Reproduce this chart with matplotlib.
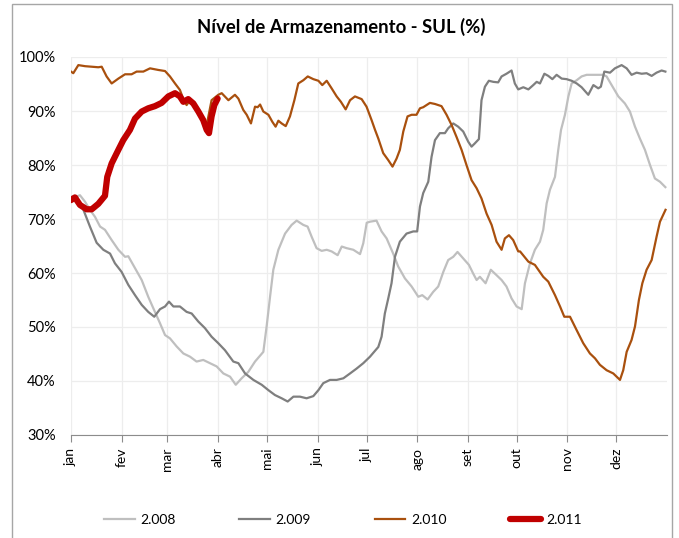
import matplotlib
matplotlib.use("Agg")
import matplotlib.pyplot as plt
from matplotlib.patches import Rectangle
from matplotlib.ticker import FixedLocator, PercentFormatter

plt.rcParams['font.family'] = ['Lato', 'DejaVu Sans']

# dia do ano (0 = 1 jan) e nivel (%)
dias_2008 = [0, 5.5, 8.6, 11.6, 14.7, 17.8, 20.8, 24.9, 29, 33.1, 35.1, 39.2, 43.3, 47.3, 51.4, 54.5,
             57.6, 60.6, 64.7, 68.8, 72.9, 76.9, 81, 85.1, 89.2, 93.3, 97.4, 100.9, 104.5, 108.6, 112.7,
             117.8, 119.8, 121.9, 123.9, 127, 131.1, 135.1, 138.2, 142.3, 144.9, 147.4, 150.4, 153.5,
             156.6, 159.6, 163.3, 165.8, 168.8, 172.9, 177, 179, 181.1, 183.1, 187.1, 190.2, 193.3,
             197.3, 200.4, 204.5, 208.6, 212.7, 215.1, 218.4, 221.8, 224.9, 228, 231, 234.1, 236.7,
             240.2, 243.7, 246.3, 248.4, 250.4, 253.9, 257.1, 260.6, 263.7, 266.7, 269.8, 272.9, 276,
             278, 281.1, 284.1, 287.2, 289.2, 291.3, 293.3, 296.4, 298.4, 300.1, 302.5, 304.6, 306.6,
             309.7, 312.7, 315.8, 320.9, 326, 328, 331.1, 335.2, 339.2, 342.3, 345.4, 348.4, 351.5,
             354.6, 357.6, 360.7, 364]
nivel_2008 = [73.8, 74.4, 73.2, 71.7, 70.4, 68.6, 68.0, 66.1, 64.3, 63.0, 63.1, 60.9, 58.7, 55.6, 52.8, 50.7,
              48.5, 47.9, 46.4, 45.1, 44.5, 43.6, 43.9, 43.3, 42.7, 41.4, 40.8, 39.3, 40.5, 41.7, 43.6,
              45.4, 50.1, 55.6, 60.6, 64.3, 67.3, 68.9, 69.7, 68.9, 68.6, 66.7, 64.6, 64.1,
              64.3, 64.0, 63.3, 64.9, 64.6, 64.3, 63.5, 65.5, 69.3, 69.5, 69.7, 67.7, 66.4,
              63.6, 61.2, 59.0, 57.5, 55.6, 55.9, 55.1, 56.5, 57.5, 60.2, 62.4, 63.0, 63.9,
              62.7, 61.5, 59.9, 58.7, 59.3, 58.1, 60.6, 59.6, 58.7, 57.5, 55.3, 53.8, 53.3,
              58.1, 61.8, 64.3, 65.8, 68.0, 72.9, 75.4, 77.8, 82.8, 86.5, 89.3, 92.7, 95.1,
              95.7, 96.4, 96.7, 96.7, 96.7, 96.4, 94.8, 92.7, 91.4, 89.9, 87.1, 84.9, 82.8,
              80.0, 77.5, 76.9, 75.9]

dias_2009 = [0, 3.5, 7.6, 11.6, 15.7, 19.8, 23.9, 26.9, 31, 35.1, 39.2, 43.3, 47.3, 51, 54.5, 57.6, 60,
             62.7, 66.7, 70.8, 73.9, 78, 82, 86.1, 90.2, 94.3, 99.4, 102.5, 106.6, 111.7, 116.8, 120.9,
             124.9, 129, 132.7, 136.2, 140.2, 144.3, 148.4, 151.5, 154.5, 158.6, 162.7, 166.8, 170.9,
             174.9, 179, 183.1, 186.2, 188.2, 190.2, 192.2, 194.3, 196.3, 198.4, 201.4, 205.5, 209.6,
             212, 213.7, 215.7, 218.8, 220.8, 222.9, 225.9, 229, 231, 234.1, 237.1, 240.2, 243.3, 245.3,
             247.3, 249.8, 251.4, 253.5, 255.9, 258.6, 261.6, 263.7, 266.7, 269.8, 271.8, 273.9, 277,
             280.1, 283.1, 285.2, 287.2, 289.9, 292.3, 294.8, 297.4, 300.5, 303.5, 306.6, 309.7, 312.7,
             316.8, 319.9, 322.9, 324.5, 326.6, 330.1, 333.1, 337.2, 340.3, 343.3, 346.4, 349.5, 352.5,
             355.6, 358.6, 361.7, 364]
nivel_2009 = [74.1, 74.1, 71.7, 68.6, 65.6, 64.3, 63.6, 61.8, 60.2, 57.8, 55.9, 54.1, 52.8, 51.9, 53.3, 53.8, 54.7,
              53.8, 53.8, 52.8, 52.5, 51.0, 49.8, 48.2, 47.0, 45.7, 43.6, 43.3, 41.4, 40.2, 39.3, 38.3,
              37.4, 36.8, 36.2, 37.1, 37.1, 36.8, 37.2, 38.3, 39.6, 40.2, 40.2, 40.5, 41.4,
              42.3, 43.3, 44.5, 45.6, 46.3, 48.2, 52.5, 55.3, 58.1, 63.0, 65.8, 67.3, 67.7,
              67.7, 72.3, 74.8, 76.9, 81.5, 84.6, 85.9, 85.9, 86.8, 87.7, 87.1, 86.2, 84.3, 83.4,
              84.0, 84.8, 92.0, 94.5, 95.6, 95.4, 95.3, 96.4, 96.9, 97.5, 95.1, 94.0, 94.4,
              94.0, 94.8, 95.4, 95.1, 96.9, 96.5, 95.9, 96.7, 96.0, 95.9, 95.6, 95.1, 94.4,
              93.0, 94.8, 94.2, 94.5, 97.3, 97.1, 97.9, 98.5, 97.9, 96.7, 97.1, 96.9, 97.0,
              96.5, 97.1, 97.5, 97.3]

dias_2010 = [0, 1.4, 4.5, 8.6, 12.7, 16.7, 18.8, 21.8, 24.9, 29, 33.1, 37.1, 40.2, 44.3, 48.4, 53.5, 57.6,
             60.6, 63.7, 66.7, 68.8, 70.8, 72.9, 77, 80, 83.1, 86.1, 90.2, 92.3, 96.4, 100.4, 102.5,
             105.5, 107.6, 110.2, 112.7, 114.3, 115.8, 117.8, 120.9, 123.3, 125.3, 127, 129, 131.5,
             134.1, 136.8, 139.2, 142.3, 145, 148.4, 151.5, 153.9, 156.6, 159.6, 162.7, 165.3, 168.2,
             170.9, 173.9, 178, 181, 184.1, 186.2, 188.2, 191.2, 194.3, 196.9, 199.4, 201.4, 203.5,
             206.1, 208.6, 211.6, 213.7, 215.7, 219.8, 222.9, 226.9, 230, 233.1, 236.1, 239.2, 242.2,
             245.3, 248.4, 251.4, 254.5, 257.6, 260.6, 263.7, 265.7, 268.2, 270.8, 273.9, 275, 280.1,
             284.1, 289.2, 292.3, 296.4, 299.5, 302.1, 305.6, 309.7, 313.7, 317.8, 320.9, 323.9, 328,
             332.1, 336.2, 338.2, 340.3, 343.3, 345.4, 347.8, 349.9, 352.5, 355.6, 358.6, 360.7, 364.1]
nivel_2010 = [97.3, 97.0, 98.5, 98.3, 98.2, 98.1, 98.2, 96.4, 95.1, 96.0, 96.8, 96.8, 97.3, 97.3, 97.9, 97.6, 97.4,
              96.4, 95.1, 93.9, 92.2, 91.1, 92.0, 90.2, 88.6, 87.4, 92.0, 93.0, 93.3, 92.0, 93.0, 92.3,
              90.2, 89.3, 87.7, 90.8, 90.7, 91.2, 89.9, 89.3, 88.0, 87.1, 88.2, 87.7, 87.2,
              89.0, 92.0, 95.1, 95.7, 96.4, 95.9, 95.6, 94.8, 95.6, 94.2, 92.7, 91.7, 90.3,
              92.0, 92.7, 92.2, 90.8, 88.3, 86.5, 84.9, 82.2, 80.9, 79.7, 81.2, 82.8, 86.2,
              89.0, 89.3, 89.3, 90.5, 90.7, 91.5, 91.3, 90.9, 89.3, 87.4, 85.2, 82.8, 80.0,
              77.2, 75.7, 73.8, 71.0, 68.9, 65.8, 64.3, 66.4, 67.0, 66.1, 64.0, 64.0, 62.1,
              61.5, 59.3, 58.4, 55.9, 53.8, 51.9, 51.9, 49.4, 47.0, 45.1, 44.2, 43.0, 42.0,
              41.4, 40.2, 42.0, 45.4, 47.6, 50.1, 55.0, 58.1, 60.6, 62.4, 66.7, 69.5, 71.7]

dias_2011 = [0, 2.4, 5.5, 9.6, 12.7, 16.7, 20.8, 22.2, 24.9, 29, 32, 36.1, 39.2, 43.3, 47.3, 51.4, 55.5,
             59.6, 63.7, 66.7, 68.8, 71.8, 74.9, 78, 81, 83.1, 84.5, 86.1, 87.8, 89.8]
nivel_2011 = [73.5, 74.0, 72.6, 71.8, 71.8, 72.8, 74.3, 77.8, 80.3, 82.8, 84.6, 86.5, 88.6, 89.9, 90.5, 90.9, 91.5,
              92.7, 93.3, 92.7, 91.7, 92.2, 91.4, 89.9, 88.3, 86.5, 85.9, 89.0, 91.1, 92.3]

meses = ['jan', 'fev', 'mar', 'abr', 'mai', 'jun', 'jul', 'ago', 'set', 'out', 'nov', 'dez']
inicio_mes = [0, 31, 59, 90, 120, 151, 181, 212, 243, 273, 304, 334]

fig = plt.figure(figsize=(6.79, 5.38), dpi=100)
fig.patches.append(Rectangle((12 / 679, -0.01), 660 / 679, 1 - 4 / 538 + 0.01, transform=fig.transFigure,
                             fill=False, edgecolor='#A6A6A6', linewidth=1.0))
ax = fig.add_axes([71 / 679, 1 - 435 / 538, 596 / 679, 378 / 538])

ax.plot(dias_2008, nivel_2008, color='#BFBFBF', lw=1.6, label='2.008')
ax.plot(dias_2009, nivel_2009, color='#7F7F7F', lw=1.6, label='2.009')
ax.plot(dias_2010, nivel_2010, color='#A9500E', lw=1.6, label='2.010')
ax.plot(dias_2011, nivel_2011, color='#C00000', lw=4.5, solid_capstyle='round', label='2.011')

ax.set_xlim(0, 365)
ax.set_ylim(30, 100)
ax.set_yticks(range(30, 101, 10))
ax.yaxis.set_major_formatter(PercentFormatter(decimals=0))
ax.xaxis.set_major_locator(FixedLocator(inicio_mes))
ax.set_xticklabels(meses, rotation=90, fontsize=10)
ax.tick_params(axis='y', length=0, labelsize=10.5, pad=11)
ax.tick_params(axis='x', length=5, color='#8C8C8C', pad=4)
ax.grid(True, color='#EDEDED', lw=0.9)
ax.set_axisbelow(True)
for s in ['top', 'right', 'left']:
    ax.spines[s].set_visible(False)
ax.spines['bottom'].set_color('#8C8C8C')

fig.text(341 / 679, 1 - 27 / 538, 'Nível de Armazenamento - SUL (%)', ha='center', va='center',
         fontsize=13.3, fontweight='bold')

fig.legend(loc='center', bbox_to_anchor=(343 / 679, 1 - 520 / 538), ncol=4, frameon=False,
           fontsize=10, handlelength=2.2, handletextpad=0.4, columnspacing=4.6)

fig.savefig('out.png', dpi=100, facecolor='white')
